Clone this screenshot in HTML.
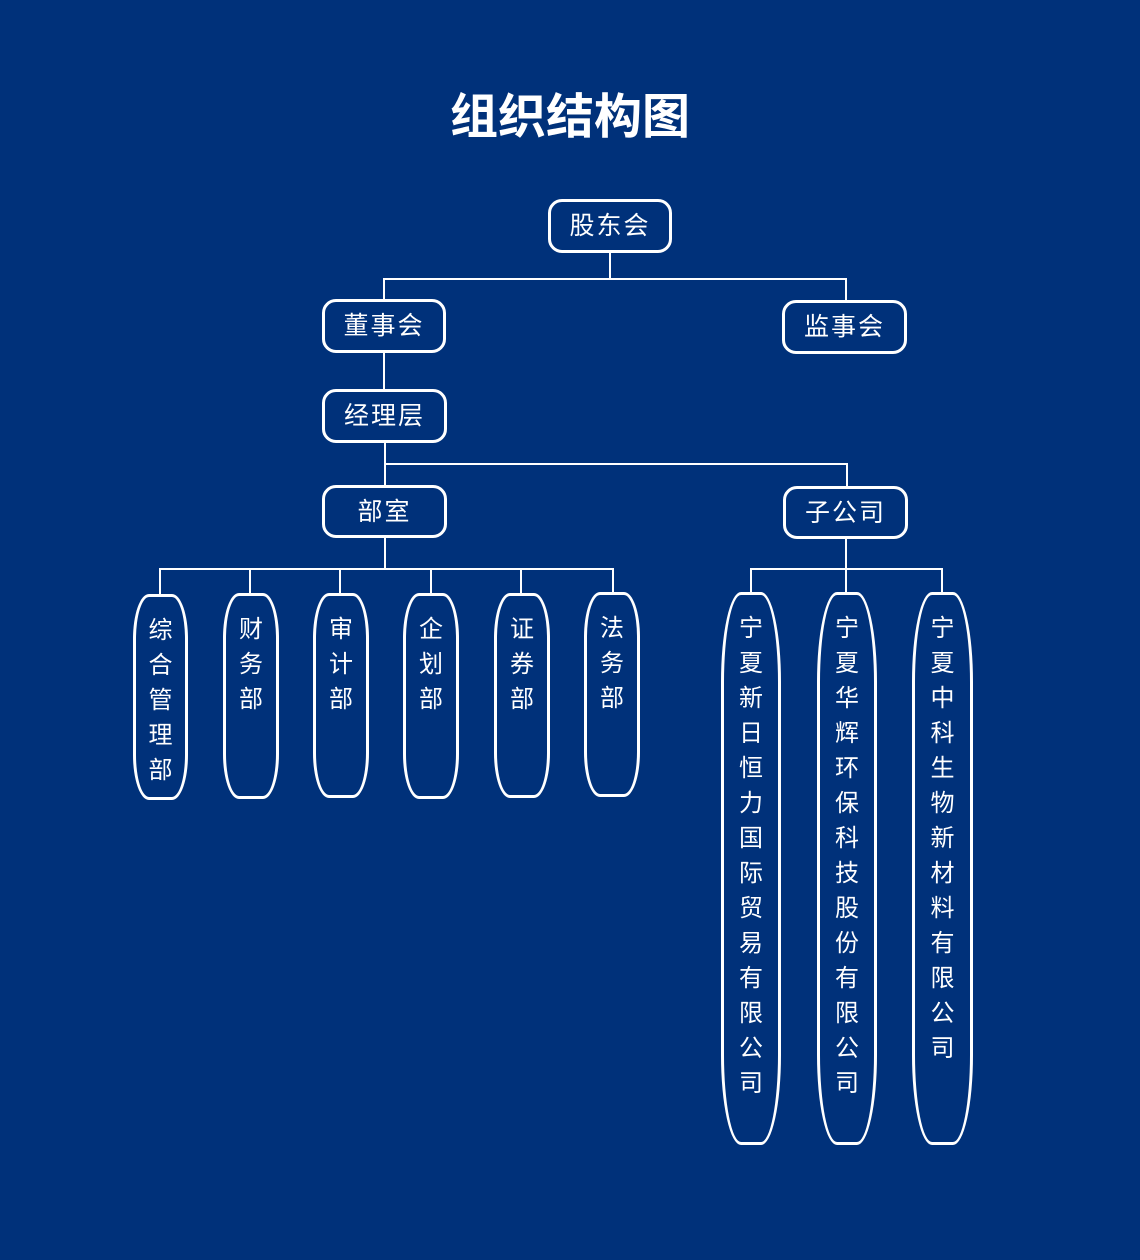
<!DOCTYPE html>
<html><head><meta charset="utf-8">
<style>
html,body{margin:0;padding:0;}
body{width:1140px;height:1260px;background:#00317a;position:relative;overflow:hidden;
font-family:"Liberation Sans","Noto Sans CJK SC",sans-serif;color:#fff;}
.t{position:absolute;left:0;width:1140px;top:90px;text-align:center;font-size:48px;font-weight:bold;line-height:56px;}
.b{position:absolute;box-sizing:border-box;border:3px solid #fff;border-radius:14px;text-align:center;font-size:25px;line-height:48px;letter-spacing:2px;}
.v{position:absolute;box-sizing:border-box;border:3px solid #fff;border-radius:16px/45px;text-align:center;font-size:24px;line-height:35px;padding-top:16px;}
.w{border-radius:20px/90px;}
.h{position:absolute;height:2px;background:#fff;}
.l{position:absolute;width:2px;background:#fff;}
</style></head><body>
<div class="t">组织结构图</div>

<div class="b" style="left:548px;top:199px;width:124px;height:54px;">股东会</div>
<div class="b" style="left:322px;top:299px;width:124px;height:54px;">董事会</div>
<div class="b" style="left:782px;top:300px;width:125px;height:54px;">监事会</div>
<div class="b" style="left:322px;top:389px;width:125px;height:54px;">经理层</div>
<div class="b" style="left:322px;top:485px;width:125px;height:53px;">部室</div>
<div class="b" style="left:783px;top:486px;width:125px;height:53px;">子公司</div>

<div class="l" style="left:609px;top:253px;height:27px;"></div>
<div class="h" style="left:383px;top:278px;width:464px;"></div>
<div class="l" style="left:383px;top:278px;height:22px;"></div>
<div class="l" style="left:845px;top:278px;height:23px;"></div>
<div class="l" style="left:383px;top:353px;height:37px;"></div>
<div class="l" style="left:384px;top:443px;height:43px;"></div>
<div class="h" style="left:384px;top:463px;width:464px;"></div>
<div class="l" style="left:846px;top:463px;height:24px;"></div>
<div class="l" style="left:384px;top:538px;height:32px;"></div>
<div class="h" style="left:159px;top:568px;width:455px;"></div>
<div class="l" style="left:159px;top:568px;height:27px;"></div>
<div class="l" style="left:249px;top:568px;height:26px;"></div>
<div class="l" style="left:339px;top:568px;height:26px;"></div>
<div class="l" style="left:430px;top:568px;height:26px;"></div>
<div class="l" style="left:520px;top:568px;height:26px;"></div>
<div class="l" style="left:612px;top:568px;height:25px;"></div>
<div class="l" style="left:845px;top:539px;height:31px;"></div>
<div class="h" style="left:750px;top:568px;width:193px;"></div>
<div class="l" style="left:750px;top:568px;height:25px;"></div>
<div class="l" style="left:845px;top:568px;height:25px;"></div>
<div class="l" style="left:941px;top:568px;height:25px;"></div>

<div class="v" style="left:133px;top:594px;width:55px;height:206px;">综<br>合<br>管<br>理<br>部</div>
<div class="v" style="left:223px;top:593px;width:56px;height:206px;">财<br>务<br>部</div>
<div class="v" style="left:313px;top:593px;width:56px;height:205px;">审<br>计<br>部</div>
<div class="v" style="left:403px;top:593px;width:56px;height:206px;">企<br>划<br>部</div>
<div class="v" style="left:494px;top:593px;width:56px;height:205px;">证<br>券<br>部</div>
<div class="v" style="left:584px;top:592px;width:56px;height:205px;">法<br>务<br>部</div>

<div class="v w" style="left:721px;top:592px;width:60px;height:553px;">宁<br>夏<br>新<br>日<br>恒<br>力<br>国<br>际<br>贸<br>易<br>有<br>限<br>公<br>司</div>
<div class="v w" style="left:817px;top:592px;width:60px;height:553px;">宁<br>夏<br>华<br>辉<br>环<br>保<br>科<br>技<br>股<br>份<br>有<br>限<br>公<br>司</div>
<div class="v w" style="left:912px;top:592px;width:61px;height:553px;">宁<br>夏<br>中<br>科<br>生<br>物<br>新<br>材<br>料<br>有<br>限<br>公<br>司</div>
</body></html>
